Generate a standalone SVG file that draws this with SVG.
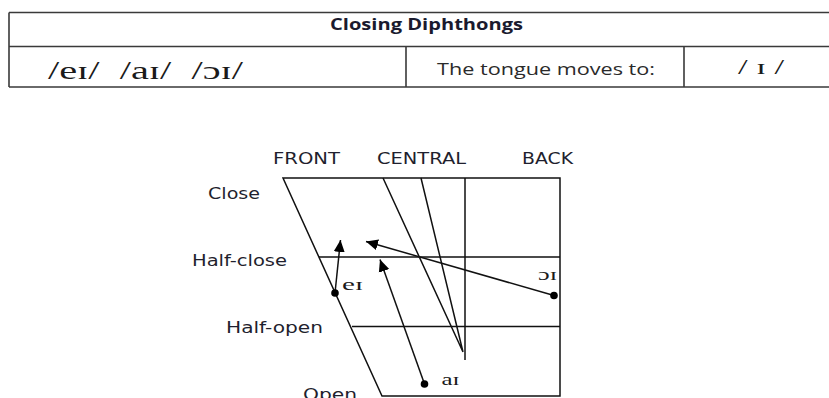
<svg xmlns="http://www.w3.org/2000/svg" width="829" height="398" viewBox="0 0 829 398">
<style>
.tb{fill:none;stroke:#3a3a3a;stroke-width:1.6}
.ln{fill:none;stroke:#111;stroke-width:1.5}
.lab{font-family:"DejaVu Sans",Verdana,sans-serif;font-size:16px;fill:#1f1f2e}
.ipa{font-family:"Liberation Serif","DejaVu Serif",serif;fill:#1a1a1a}
.sm{font-size:17px}
.arr{fill:none;stroke:#111;stroke-width:1.5}
.dot{fill:#000}
</style>
<defs>
<marker id="ah" markerUnits="userSpaceOnUse" markerWidth="13" markerHeight="12" refX="12" refY="6" orient="auto">
<path d="M0,0.5 L12,6 L0,11.5 z" fill="#000"/>
</marker>
</defs>
<rect width="829" height="398" fill="#fff"/>
<g id="table">
<path class="tb" d="M9,12.5 H830 M9,46.5 H830 M9,87 H830 M9,12.5 V87 M406,46.5 V87 M684,46.5 V87"/>
<text x="330" y="30" font-family="'Open Sans','Liberation Sans',sans-serif" font-weight="bold" font-size="15.5" fill="#1a1a2e" textLength="193" lengthAdjust="spacingAndGlyphs">Closing Diphthongs</text>
<text class="ipa" x="48" y="79" font-size="25" xml:space="preserve" textLength="195" lengthAdjust="spacingAndGlyphs">/eɪ/  /aɪ/  /ɔɪ/</text>
<text x="437" y="75" font-family="'Open Sans','Liberation Sans',sans-serif" font-size="15.5" fill="#2a2a2a" textLength="218" lengthAdjust="spacingAndGlyphs">The tongue moves to:</text>
<text class="ipa" x="738" y="74" font-size="22" textLength="46" lengthAdjust="spacingAndGlyphs">/ ɪ /</text>
</g>
<g id="chart">
<path class="ln" d="M283,178 H560 V396 H382 Z"/>
<path class="ln" d="M319,257 H560 M352,326.5 H560"/>
<path class="ln" d="M465,178 V360 M383,178 L463,352 M421,178 L463,352"/>
</g>
<g id="labels">
<text class="lab" x="273" y="164" textLength="67" lengthAdjust="spacingAndGlyphs">FRONT</text>
<text class="lab" x="377" y="164" textLength="89" lengthAdjust="spacingAndGlyphs">CENTRAL</text>
<text class="lab" x="522" y="164" textLength="51" lengthAdjust="spacingAndGlyphs">BACK</text>
<text class="lab" x="208" y="199" textLength="52" lengthAdjust="spacingAndGlyphs">Close</text>
<text class="lab" x="192" y="266" textLength="95" lengthAdjust="spacingAndGlyphs">Half-close</text>
<text class="lab" x="226" y="333" textLength="97" lengthAdjust="spacingAndGlyphs">Half-open</text>
<text class="lab" x="303" y="399.5" textLength="54" lengthAdjust="spacingAndGlyphs">Open</text>
</g>
<g id="connectors">
<line class="arr" x1="335" y1="293" x2="340.5" y2="240" marker-end="url(#ah)"/>
<line class="arr" x1="554" y1="295.5" x2="366" y2="241.5" marker-end="url(#ah)"/>
<line class="arr" x1="424.5" y1="384" x2="380" y2="259.5" marker-end="url(#ah)"/>
</g>
<g id="node-ei">
<circle class="dot" cx="335" cy="293" r="3.8"/>
<text class="ipa sm" x="342" y="290" textLength="21" lengthAdjust="spacingAndGlyphs">eɪ</text>
</g>
<g id="node-oi">
<circle class="dot" cx="554" cy="295.5" r="3.8"/>
<text class="ipa sm" x="538" y="279.5" textLength="19" lengthAdjust="spacingAndGlyphs">ɔɪ</text>
</g>
<g id="node-ai">
<circle class="dot" cx="424.5" cy="384" r="3.8"/>
<text class="ipa sm" x="441.5" y="384.5" textLength="18" lengthAdjust="spacingAndGlyphs">aɪ</text>
</g>
</svg>
